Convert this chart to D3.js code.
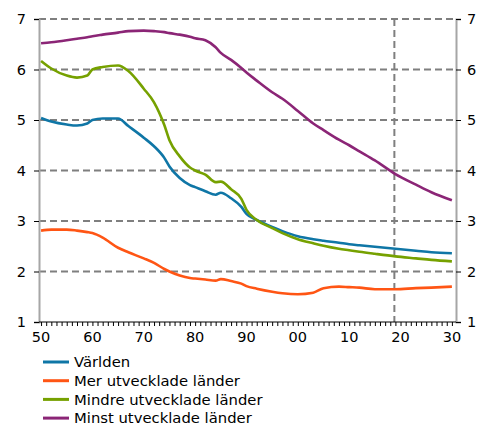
<!DOCTYPE html>
<html>
<head>
<meta charset="utf-8">
<script src="https://cdn.jsdelivr.net/npm/d3@7"></script>
<style>
  body { margin: 0; background: #fff; }
  text { font-family: "DejaVu Sans", Verdana, sans-serif; font-size: 14px; fill: #000; }
</style>
</head>
<body>
<script>
// years the values were read at
var years = [1950, 1952, 1955, 1957, 1959, 1960, 1962, 1965, 1967, 1970, 1972, 1974, 1975, 1977, 1979,
  1980, 1982, 1984, 1985, 1987, 1989, 1990, 1992, 1995, 1997, 2000, 2003, 2005, 2008, 2010, 2012,
  2015, 2019, 2023, 2026, 2030];

var varlden = [5.04, 4.97, 4.91, 4.89, 4.93, 5.00, 5.03, 5.03, 4.88, 4.65, 4.48, 4.25, 4.08, 3.85, 3.71,
  3.67, 3.59, 3.52, 3.56, 3.45, 3.28, 3.14, 3.02, 2.88, 2.80, 2.70, 2.64, 2.61, 2.57, 2.54, 2.52,
  2.49, 2.45, 2.41, 2.38, 2.36];
var merUtv = [2.81, 2.83, 2.83, 2.81, 2.78, 2.76, 2.67, 2.47, 2.38, 2.26, 2.17, 2.05, 2.00, 1.92, 1.87,
  1.86, 1.84, 1.82, 1.85, 1.81, 1.76, 1.71, 1.66, 1.60, 1.57, 1.55, 1.58, 1.67, 1.70, 1.69, 1.68,
  1.65, 1.65, 1.67, 1.68, 1.70];
var mindreUtv = [6.17, 6.02, 5.88, 5.84, 5.88, 6.00, 6.05, 6.08, 5.97, 5.62, 5.35, 4.90, 4.60, 4.28, 4.06,
  4.00, 3.92, 3.77, 3.78, 3.63, 3.44, 3.22, 3.02, 2.86, 2.76, 2.64, 2.56, 2.51, 2.45, 2.42, 2.39,
  2.35, 2.30, 2.26, 2.23, 2.20];
var minstUtv = [6.52, 6.54, 6.58, 6.61, 6.64, 6.66, 6.69, 6.73, 6.76, 6.77, 6.76, 6.74, 6.72, 6.69, 6.65,
  6.62, 6.58, 6.44, 6.33, 6.19, 6.03, 5.94, 5.78, 5.55, 5.42, 5.18, 4.93, 4.80, 4.61, 4.50, 4.38,
  4.20, 3.93, 3.72, 3.57, 3.41];

var seriesNames = ["Världen", "Mer utvecklade länder", "Mindre utvecklade länder", "Minst utvecklade länder"];
var seriesColors = ["#0f76a6", "#ff5514", "#76a100", "#8b2576"];
var seriesValues = [varlden, merUtv, mindreUtv, minstUtv];

var yTicks = [1, 2, 3, 4, 5, 6, 7];
var xLabelYears = [1950, 1960, 1970, 1980, 1990, 2000, 2010, 2020, 2030];
var forecastStart = 2018.8;

var width = 484, height = 425;
var mLeft = 39, mRight = 456, mTop = 19, mBottom = 322;

var svg = d3.select("body").append("svg")
    .attr("width", width)
    .attr("height", height);

var x = d3.scaleLinear().domain([1949.6, 2030.8]).range([mLeft, mRight]);
var y = d3.scaleLinear().domain([1, 7]).range([mBottom, mTop]);

// horizontal dashed grid
svg.append("g").selectAll("line")
    .data(yTicks.filter(d => d > 1))
    .enter().append("line")
    .attr("x1", mLeft).attr("x2", mRight)
    .attr("y1", d => y(d)).attr("y2", d => y(d))
    .attr("stroke", "#7f7f7f")
    .attr("stroke-width", 2)
    .attr("stroke-dasharray", "7,4");

// forecast marker
svg.append("line")
    .attr("x1", x(forecastStart)).attr("x2", x(forecastStart))
    .attr("y1", mTop).attr("y2", mBottom)
    .attr("stroke", "#7f7f7f")
    .attr("stroke-width", 2)
    .attr("stroke-dasharray", "7,4");

// left axis
var yl = svg.append("g")
    .attr("transform", "translate(" + mLeft + ",0)")
    .call(d3.axisLeft(y).tickValues(yTicks).tickSize(5).tickPadding(8).tickFormat(d3.format("d")));
// right axis
var yr = svg.append("g")
    .attr("transform", "translate(" + mRight + ",0)")
    .call(d3.axisRight(y).tickValues(yTicks).tickSize(5).tickPadding(6).tickFormat(d3.format("d")));

[yl, yr].forEach(function(g) {
  g.select(".domain").attr("stroke", "#a6a6a6").attr("stroke-width", 2);
  g.selectAll(".tick line").attr("stroke", "#000");
  g.selectAll("text").style("font-size", "14.5px").attr("font-family", null);
});

// bottom axis, a tick every year
var xg = svg.append("g")
    .attr("transform", "translate(0," + mBottom + ")")
    .call(d3.axisBottom(x).tickValues(d3.range(1950, 2031)).tickSize(4).tickFormat(""));
xg.select(".domain").attr("d", "M" + mLeft + ",0H" + mRight).attr("stroke", "#000");
xg.selectAll(".tick line").attr("stroke", "#000");

svg.append("g").selectAll("text")
    .data(xLabelYears)
    .enter().append("text")
    .attr("x", d => x(d))
    .attr("y", mBottom + 20)
    .attr("text-anchor", "middle")
    .style("font-size", "14.5px")
    .text(d => d3.format("02d")(d % 100));

// lines
var line = d3.line()
    .x((d, i) => x(years[i]))
    .y(d => y(d))
    .curve(d3.curveMonotoneX);

svg.append("g").selectAll("path")
    .data(seriesValues)
    .enter().append("path")
    .attr("d", line)
    .attr("fill", "none")
    .attr("stroke", (d, i) => seriesColors[i])
    .attr("stroke-width", 2.6)
    .attr("stroke-linejoin", "round");

// legend
var legend = svg.append("g").selectAll("g")
    .data(seriesNames)
    .enter().append("g")
    .attr("transform", (d, i) => "translate(43," + (362 + i * 18.7) + ")");
legend.append("line")
    .attr("x1", 0).attr("x2", 26)
    .attr("stroke", (d, i) => seriesColors[i])
    .attr("stroke-width", 3);
legend.append("text")
    .attr("x", 31)
    .attr("dy", "0.35em")
    .style("font-size", "14.8px")
    .text(d => d);
</script>
</body>
</html>
